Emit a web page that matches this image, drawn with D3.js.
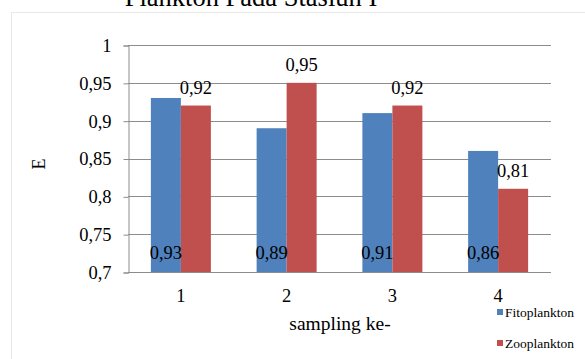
<!DOCTYPE html>
<html>
<head>
<meta charset="utf-8">
<script src="https://cdn.jsdelivr.net/npm/d3@7"></script>
<style>
    body { margin: 0; background: #fff; }
    svg { display: block; font-family: "Liberation Serif", "Times New Roman", serif; }
</style>
</head>
<body>
<svg id="chart"></svg>
<script>
const samplings = ["1", "2", "3", "4"];
const fitoplankton = [0.93, 0.89, 0.91, 0.86];
const zooplankton = [0.92, 0.95, 0.92, 0.81];
const yTicks = [0.7, 0.75, 0.8, 0.85, 0.9, 0.95, 1];
const seriesNames = ["Fitoplankton", "Zooplankton"];

const colorMap = new Map([
    ["Fitoplankton", "#4F81BD"],
    ["Zooplankton", "#C0504D"]
]);

const width = 585;
const height = 359;
const plot = {left: 128, right: 551, top: 45, bottom: 272};

const svg = d3.select("#chart")
    .attr("width", width)
    .attr("height", height);

// title, mostly cut off at top of the picture
svg.append("text")
    .attr("x", 251)
    .attr("y", 6)
    .attr("text-anchor", "middle")
    .style("font-size", "26.5px")
    .text("Plankton Pada Stasiun I");

// chart area border
svg.append("rect")
    .attr("x", 11.5)
    .attr("y", 12.5)
    .attr("width", 620)
    .attr("height", 400)
    .attr("fill", "none")
    .attr("stroke", "#e8e8e8");

const xScale = d3.scaleBand()
    .domain(samplings)
    .range([plot.left, plot.right]);

const xInner = d3.scaleBand()
    .domain(seriesNames)
    .range([xScale.bandwidth() / 2 - 30, xScale.bandwidth() / 2 + 30]);

const yScale = d3.scaleLinear()
    .domain([0.7, 1])
    .range([plot.bottom, plot.top]);

const fmt = v => d3.format(".2~f")(v).replace(".", ",");

// gridlines
svg.append("g")
    .selectAll("line")
    .data(yTicks.filter(t => t > 0.7))
    .join("line")
        .attr("x1", plot.left)
        .attr("x2", plot.right)
        .attr("y1", d => Math.round(yScale(d)) + 0.5)
        .attr("y2", d => Math.round(yScale(d)) + 0.5)
        .attr("stroke", "#8c8c8c");

// y axis
const yAxis = svg.append("g")
    .attr("transform", "translate(" + (plot.left + 0.5) + ",0.5)")
    .call(d3.axisLeft(yScale).tickValues(yTicks).tickSize(5).tickPadding(12).tickFormat(fmt));
yAxis.select(".domain").attr("stroke", "#8c8c8c");
yAxis.selectAll(".tick line").attr("stroke", "#8c8c8c");
yAxis.selectAll("text")
    .attr("fill", "#000")
    .style("font-size", "18.5px")
    .style("font-family", "Liberation Serif");

// bars
const rows = samplings.map((s, i) => ({
    sampling: s,
    values: [
        {name: "Fitoplankton", value: fitoplankton[i]},
        {name: "Zooplankton", value: zooplankton[i]}
    ]
}));

const groups = svg.append("g")
    .selectAll("g")
    .data(rows)
    .join("g")
        .attr("transform", d => "translate(" + xScale(d.sampling) + ",0)");

groups.selectAll("rect")
    .data(d => d.values)
    .join("rect")
        .attr("x", d => xInner(d.name))
        .attr("y", d => yScale(d.value))
        .attr("width", xInner.bandwidth())
        .attr("height", d => yScale(0.7) - yScale(d.value))
        .attr("fill", d => colorMap.get(d.name));

// data labels: fito at the base, zoo above the bar
groups.selectAll("text")
    .data(d => d.values)
    .join("text")
        .attr("x", d => xInner(d.name) + xInner.bandwidth() / 2)
        .attr("y", d => d.name == "Fitoplankton" ? yScale(0.7) - 13 : yScale(d.value) - 12)
        .attr("text-anchor", "middle")
        .style("font-size", "18.5px")
        .text(d => fmt(d.value));

// x axis
svg.append("line")
    .attr("x1", plot.left)
    .attr("x2", plot.right)
    .attr("y1", plot.bottom + 0.5)
    .attr("y2", plot.bottom + 0.5)
    .attr("stroke", "#8c8c8c");

svg.append("g")
    .selectAll("text")
    .data(samplings)
    .join("text")
        .attr("x", d => xScale(d) + xScale.bandwidth() / 2)
        .attr("y", 302)
        .attr("text-anchor", "middle")
        .style("font-size", "18.5px")
        .text(d => d);

// axis titles
svg.append("text")
    .attr("x", 340)
    .attr("y", 330)
    .attr("text-anchor", "middle")
    .style("font-size", "19.5px")
    .text("sampling ke-");

svg.append("text")
    .attr("transform", "translate(45,164)rotate(-90)")
    .attr("text-anchor", "middle")
    .style("font-size", "18px")
    .text("E");

// legend
const legend = svg.append("g")
    .selectAll("g")
    .data(seriesNames)
    .join("g")
        .attr("transform", (d, i) => "translate(497," + (312 + i * 31) + ")");

legend.append("rect")
    .attr("x", 0)
    .attr("y", -3)
    .attr("width", 6)
    .attr("height", 6)
    .attr("fill", d => colorMap.get(d));

legend.append("text")
    .attr("x", 8)
    .attr("y", 4.5)
    .style("font-size", "13.5px")
    .text(d => d);
</script>
</body>
</html>
